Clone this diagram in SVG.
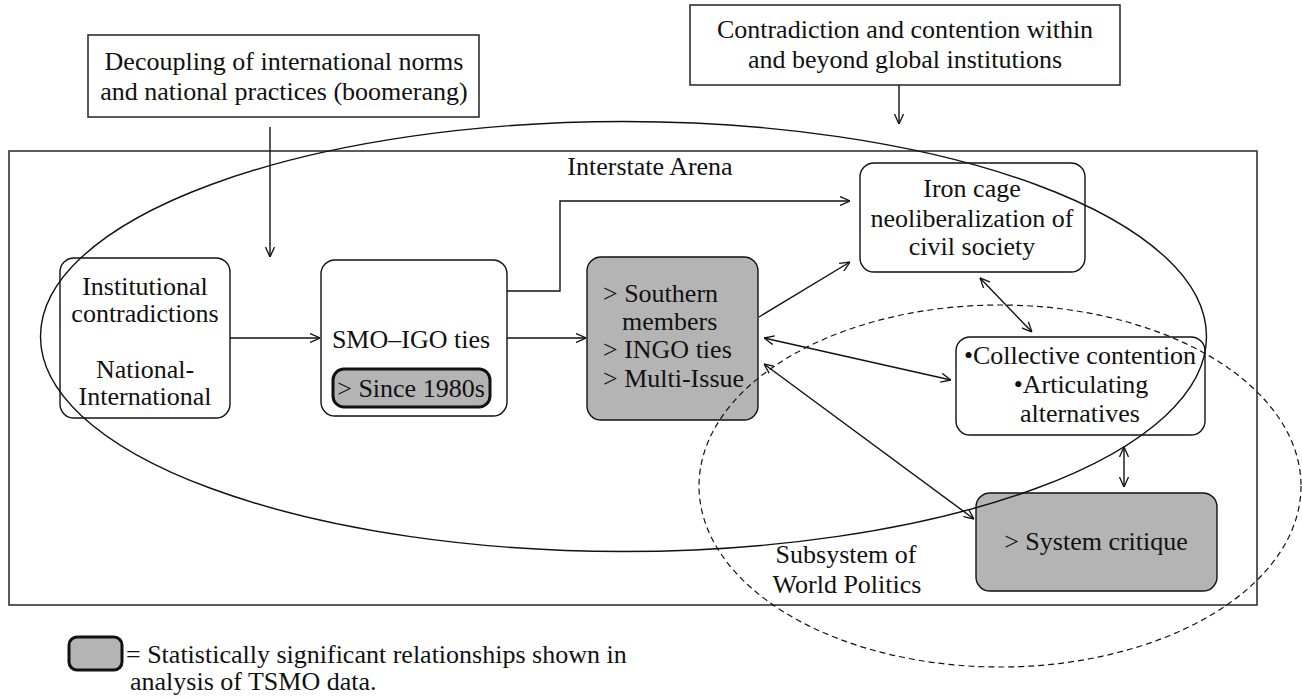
<svg xmlns="http://www.w3.org/2000/svg" width="1302" height="698" viewBox="0 0 1302 698" font-family="Liberation Serif, serif">
<style>
text{font-family:"Liberation Serif",serif;font-size:26px;fill:#111}
.c{text-anchor:middle}
.box{fill:#fff;stroke:#111;stroke-width:1.4}
.g{fill:#b4b4b4;stroke:#111;stroke-width:1.4}
.gt{fill:#b4b4b4;stroke:#111;stroke-width:3}
.sq{fill:#fff;stroke:#222;stroke-width:1.5}
.ln{fill:none;stroke:#111;stroke-width:1.4}
</style>
<defs>
<marker id="ah" viewBox="0 0 10 10" refX="10" refY="5" markerWidth="10" markerHeight="10" markerUnits="userSpaceOnUse" orient="auto-start-reverse">
<path d="M0,0.5 L10,5 L0,9.5" fill="none" stroke="#111" stroke-width="1.3"/>
</marker>
</defs>
<rect id="frame" x="9" y="151" width="1248" height="454" fill="none" stroke="#333" stroke-width="1.6"/>
<text class="c" x="650" y="175">Interstate Arena</text>
<g id="decoupling"><rect class="sq" x="88" y="35" width="391" height="82"/>
<text class="c" x="284" y="70">Decoupling of international norms</text>
<text class="c" x="284" y="100">and national practices (boomerang)</text></g>
<g id="contradiction"><rect class="sq" x="690" y="5" width="430" height="80"/>
<text class="c" x="905" y="38">Contradiction and contention within</text>
<text class="c" x="905" y="68">and beyond global institutions</text></g>
<g id="institutional"><rect class="box" x="60" y="258" width="170" height="160" rx="14"/>
<text class="c" x="145" y="295">Institutional</text>
<text class="c" x="145" y="322">contradictions</text>
<text class="c" x="145" y="378">National-</text>
<text class="c" x="145" y="405">International</text></g>
<g id="smo"><rect class="box" x="321" y="260" width="186" height="156" rx="14"/>
<text class="c" x="411" y="348">SMO–IGO ties</text>
<rect class="gt" x="333" y="369" width="157" height="38" rx="11"/>
<text class="c" x="411" y="397">&gt; Since 1980s</text></g>
<g id="southern"><rect class="g" x="587" y="257" width="171" height="163" rx="14"/>
<text x="603" y="302">&gt; Southern</text>
<text x="622" y="330">members</text>
<text x="603" y="358">&gt; INGO ties</text>
<text x="603" y="387">&gt; Multi-Issue</text></g>
<g id="ironcage"><rect class="box" x="860" y="163" width="225" height="109" rx="14"/>
<text class="c" x="972" y="197">Iron cage</text>
<text class="c" x="972" y="227">neoliberalization of</text>
<text class="c" x="972" y="255">civil society</text></g>
<g id="collective"><rect class="box" x="956" y="337" width="249" height="98" rx="14"/>
<text class="c" x="1080" y="364">•Collective contention</text>
<text class="c" x="1081" y="393">•Articulating</text>
<text class="c" x="1080" y="422">alternatives</text></g>
<g id="critique"><rect class="g" x="976" y="493" width="241" height="98" rx="14"/>
<text class="c" x="1096" y="550">&gt; System critique</text></g>
<g id="regions">
<ellipse cx="623.5" cy="336.5" rx="583" ry="215" class="ln"/>
<ellipse cx="1000" cy="486" rx="301" ry="181" fill="none" stroke="#111" stroke-width="1.2" stroke-dasharray="6 4"/>
<text class="c" x="846" y="563">Subsystem of</text>
<text class="c" x="847" y="593">World Politics</text>
</g>
<g id="connectors">
<line class="ln" x1="270" y1="127" x2="270" y2="257" marker-end="url(#ah)"/>
<line class="ln" x1="899" y1="85" x2="899" y2="124" marker-end="url(#ah)"/>
<line class="ln" x1="230" y1="338" x2="320" y2="338" marker-end="url(#ah)"/>
<line class="ln" x1="507" y1="338" x2="586" y2="338" marker-end="url(#ah)"/>
<polyline class="ln" points="507,291 560,291 560,201 850,201" marker-end="url(#ah)"/>
<line class="ln" x1="759" y1="317" x2="850" y2="262" marker-end="url(#ah)"/>
<line class="ln" x1="980" y1="278" x2="1032" y2="332" marker-start="url(#ah)" marker-end="url(#ah)"/>
<line class="ln" x1="764" y1="338" x2="951" y2="380" marker-start="url(#ah)" marker-end="url(#ah)"/>
<line class="ln" x1="764" y1="364" x2="974" y2="519" marker-start="url(#ah)" marker-end="url(#ah)"/>
<line class="ln" x1="1124" y1="447" x2="1124" y2="487" marker-start="url(#ah)" marker-end="url(#ah)"/>
</g>
<g id="legend">
<rect class="gt" x="69" y="637" width="53" height="33" rx="8"/>
<text x="126" y="663">= Statistically significant relationships shown in</text>
<text x="130" y="690">analysis of TSMO data.</text>
</g>
</svg>
